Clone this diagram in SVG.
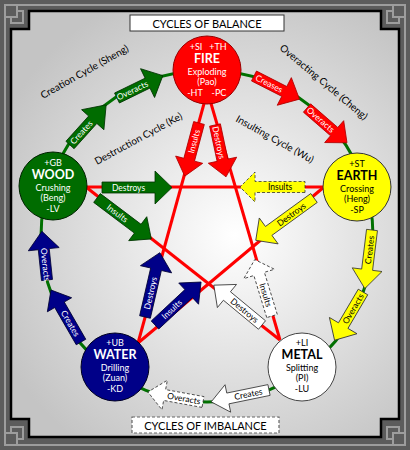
<svg xmlns="http://www.w3.org/2000/svg" width="410" height="450" viewBox="0 0 410 450">
<defs>
<radialGradient id="bg" gradientUnits="userSpaceOnUse" cx="235" cy="235" r="260">
<stop offset="0" stop-color="#ffffff"/>
<stop offset="1" stop-color="#c4c4c4"/>
</radialGradient>
<style>
.t{font-family:Lato,'Open Sans',sans-serif}
.lbl{font-family:Lato,'Open Sans',sans-serif;font-size:8.5px;text-anchor:middle;dominant-baseline:central}
.wt{fill:#fff}.kt{fill:#000}
.ag{fill:#006c00;stroke:#003300;stroke-width:.8}
.ab{fill:#000088;stroke:#000033;stroke-width:.8}
.ay{fill:#ffff00;stroke:#333;stroke-width:.8}
.ar{fill:#ff0000;stroke:#b00000;stroke-width:.8}
.aw{fill:#fff;stroke:#333;stroke-width:.8}
.dash{stroke-dasharray:3 2}
.cyc{font-family:Lato,'Open Sans',sans-serif;font-size:10px;fill:#000}
.nm{font-family:Lato,'Open Sans',sans-serif;text-anchor:middle}
.s{font-size:9px}.b{font-size:12.5px;font-weight:bold}
.meander{fill:none;stroke:#9d9d9d;stroke-width:2}
</style>
</defs>
<rect x="0" y="0" width="410" height="450" fill="#5c5c5c"/>
<g id="frame">
<rect x="5" y="5" width="400" height="440" class="meander"/>
<rect x="5" y="5" width="12" height="12" class="meander"/>
<path d="M17,11 H23 V23 H11 V17" class="meander"/>
<rect x="393" y="5" width="12" height="12" class="meander"/>
<path d="M393,11 H387 V23 H399 V17" class="meander"/>
<rect x="5" y="433" width="12" height="12" class="meander"/>
<path d="M17,439 H23 V427 H11 V433" class="meander"/>
<rect x="393" y="433" width="12" height="12" class="meander"/>
<path d="M393,439 H387 V427 H399 V433" class="meander"/>
<path d="M29,11 H381 V29 H399 V419 H381 V437 H29 V419 H11 V29 H29 Z" fill="url(#bg)" stroke="#000" stroke-width="2.5"/>
</g>
<g id="titles">
<rect x="130" y="15" width="154" height="16" fill="#fff" stroke="#333" stroke-width="1"/>
<text x="207" y="27.5" class="t" font-size="11" text-anchor="middle">CYCLES OF BALANCE</text>
<rect x="132" y="417" width="147" height="16" fill="#fff" stroke="#666" stroke-width="1.2" class="dash"/>
<text x="205.5" y="429.5" class="t" font-size="11" text-anchor="middle">CYCLES OF IMBALANCE</text>
</g>
<g id="cycle-labels">
<text class="cyc" transform="translate(43,99) rotate(-29.3)">Creation Cycle (Sheng)</text>
<text class="cyc" transform="translate(97,165) rotate(-28.5)">Destruction Cycle (Ke)</text>
<text class="cyc" transform="translate(279,49) rotate(40)">Overacting Cycle (Cheng)</text>
<text class="cyc" transform="translate(235,121) rotate(29)">Insulting Cycle (Wu)</text>
</g>
<g id="connectors">
<circle cx="207" cy="236" r="166" fill="none" stroke="#007000" stroke-width="3"/>
<g stroke="#ff0000" stroke-width="3" fill="none">
<line x1="205" y1="100" x2="138" y2="343"/>
<line x1="210" y1="100" x2="280" y2="340"/>
<line x1="86" y1="187" x2="324" y2="187"/>
<line x1="86" y1="187" x2="280" y2="340"/>
<line x1="324" y1="187" x2="138" y2="343"/>
</g>
<polygon class="ag" transform="translate(70,145) rotate(-48)" points="0,-5.5 34,-5.5 34,-15 54,0 34,15 34,5.5 0,5.5"/>
<text class="lbl wt" transform="translate(81.4,132.4) rotate(-48)">Creates</text>
<polygon class="ag" transform="translate(117,98) rotate(-26)" points="0,-5.5 34,-5.5 34,-16 51,0 34,16 34,5.5 0,5.5"/>
<text class="lbl wt" transform="translate(132.3,90.5) rotate(-26)">Overacts</text>
<polygon class="ag" transform="translate(102,187.5)" points="0,-5.5 53,-5.5 53,-16.5 70,0 53,16.5 53,5.5 0,5.5"/>
<text class="lbl wt" transform="translate(128.5,187.5)">Destroys</text>
<polygon class="ag" transform="translate(97,198) rotate(37)" points="0,-5.5 51,-5.5 51,-15 68,0 51,15 51,5.5 0,5.5"/>
<text class="lbl wt" transform="translate(117.4,213.4) rotate(37)">Insults</text>
<polygon class="ab" transform="translate(47,280) rotate(-96)" points="0,-5.5 31,-5.5 31,-15.5 49,0 31,15.5 31,5.5 0,5.5"/>
<text class="lbl wt" transform="translate(45.4,264.6) rotate(84)">Overacts</text>
<polygon class="ab" transform="translate(81,342) rotate(-120)" points="0,-5.5 43,-5.5 43,-14 60,0 43,14 43,5.5 0,5.5"/>
<text class="lbl wt" transform="translate(70.3,323.4) rotate(60)">Creates</text>
<polygon class="ab" transform="translate(145,317) rotate(-77)" points="0,-5.5 49,-5.5 49,-16 66,0 49,16 49,5.5 0,5.5"/>
<text class="lbl wt" transform="translate(150.5,293.1) rotate(-77)">Destroys</text>
<polygon class="ab" transform="translate(155,325) rotate(-43)" points="0,-5.5 46,-5.5 46,-14.5 63,0 46,14.5 46,5.5 0,5.5"/>
<text class="lbl wt" transform="translate(171.8,309.3) rotate(-43)">Insults</text>
<polygon class="ay dash" transform="translate(305,187) rotate(180)" points="0,-5.5 50,-5.5 50,-15 65,0 50,15 50,5.5 0,5.5"/>
<text class="lbl kt" transform="translate(280,187)">Insults</text>
<polygon class="ay" transform="translate(314,198) rotate(144)" points="0,-5.5 56,-5.5 56,-16 72,0 56,16 56,5.5 0,5.5"/>
<text class="lbl kt" transform="translate(291.4,214.5) rotate(-36)">Destroys</text>
<polygon class="ay" transform="translate(372,230) rotate(97)" points="0,-5.5 40,-5.5 40,-15 59,0 40,15 40,5.5 0,5.5"/>
<text class="lbl kt" transform="translate(369.6,249.9) rotate(-83)">Creates</text>
<polygon class="ay" transform="translate(363,292) rotate(120.5)" points="0,-5.5 39,-5.5 39,-16 56,0 39,16 39,5.5 0,5.5"/>
<text class="lbl kt" transform="translate(353.1,308.8) rotate(-59.5)">Overacts</text>
<polygon class="ar" transform="translate(254,76) rotate(27)" points="0,-5.5 34,-5.5 34,-15.5 51,0 34,15.5 34,5.5 0,5.5"/>
<text class="lbl wt" transform="translate(269.2,83.7) rotate(27)">Creases</text>
<polygon class="ar" transform="translate(307,108) rotate(41)" points="0,-5.5 36,-5.5 36,-14.5 53,0 36,14.5 36,5.5 0,5.5"/>
<text class="lbl wt" transform="translate(320.6,119.8) rotate(41)">Overacts</text>
<polygon class="ar" transform="translate(199,123) rotate(105)" points="0,-5.5 38,-5.5 38,-14 55,0 38,14 38,5.5 0,5.5"/>
<text class="lbl wt" transform="translate(194.1,141.4) rotate(-75)">Insults</text>
<polygon class="ar" transform="translate(215,125) rotate(78)" points="0,-5.5 36,-5.5 36,-14.5 53,0 36,14.5 36,5.5 0,5.5"/>
<text class="lbl wt" transform="translate(218.7,142.6) rotate(78)">Destroys</text>
<polygon class="aw" transform="translate(269,390) rotate(168.4)" points="0,-5.5 42,-5.5 42,-14 59,0 42,14 42,5.5 0,5.5"/>
<text class="lbl kt" transform="translate(248.4,394.2) rotate(-11.6)">Creates</text>
<polygon class="aw dash" transform="translate(203,402) rotate(190.3)" points="0,-5.5 39,-5.5 39,-15 56,0 39,15 39,5.5 0,5.5"/>
<text class="lbl kt" transform="translate(183.8,398.5) rotate(10.3)">Overacts</text>
<polygon class="aw" transform="translate(262,325) rotate(219.6)" points="0,-5.5 45.5,-5.5 45.5,-15 62.5,0 45.5,15 45.5,5.5 0,5.5"/>
<text class="lbl kt" transform="translate(244.5,310.5) rotate(39.6)">Destroys</text>
<polygon class="aw dash" transform="translate(272,316) rotate(-107)" points="0,-5.5 44,-5.5 44,-16 59,0 44,16 44,5.5 0,5.5"/>
<text class="lbl kt" transform="translate(265.6,295) rotate(73)">Insults</text>
</g>
<g id="fire">
<circle cx="207" cy="70" r="34" fill="#ff0000" stroke="#900" stroke-width="1"/>
<text class="nm s wt" x="196" y="50">+SI</text>
<text class="nm s wt" x="218" y="50">+TH</text>
<text class="nm b wt" x="207" y="63">FIRE</text>
<text class="nm s wt" x="207" y="75">Exploding</text>
<text class="nm s wt" x="207" y="85">(Pao)</text>
<text class="nm s wt" x="195" y="96">-HT</text>
<text class="nm s wt" x="219" y="96">-PC</text>
</g>
<g id="wood">
<circle cx="53" cy="186" r="34" fill="#006c00" stroke="#002200" stroke-width="1"/>
<text class="nm s wt" x="53" y="166">+GB</text>
<text class="nm b wt" x="53" y="179">WOOD</text>
<text class="nm s wt" x="53" y="191">Crushing</text>
<text class="nm s wt" x="53" y="201">(Beng)</text>
<text class="nm s wt" x="53" y="212">-LV</text>
</g>
<g id="earth">
<circle cx="357" cy="187" r="34" fill="#ffff00" stroke="#333" stroke-width="1"/>
<text class="nm s kt" x="357" y="167">+ST</text>
<text class="nm b kt" x="357" y="180">EARTH</text>
<text class="nm s kt" x="357" y="192">Crossing</text>
<text class="nm s kt" x="357" y="202">(Heng)</text>
<text class="nm s kt" x="357" y="213">-SP</text>
</g>
<g id="water">
<circle cx="115" cy="367" r="34" fill="#000088" stroke="#000022" stroke-width="1"/>
<text class="nm s wt" x="115" y="346">+UB</text>
<text class="nm b wt" x="115" y="359">WATER</text>
<text class="nm s wt" x="115" y="371">Drilling</text>
<text class="nm s wt" x="115" y="381">(Zuan)</text>
<text class="nm s wt" x="115" y="392">-KD</text>
</g>
<g id="metal">
<circle cx="302" cy="367" r="34" fill="#ffffff" stroke="#444" stroke-width="1"/>
<text class="nm s kt" x="302" y="346">+LI</text>
<text class="nm b kt" x="302" y="359">METAL</text>
<text class="nm s kt" x="302" y="371">Splitting</text>
<text class="nm s kt" x="302" y="381">(PI)</text>
<text class="nm s kt" x="302" y="392">-LU</text>
</g>
</svg>
